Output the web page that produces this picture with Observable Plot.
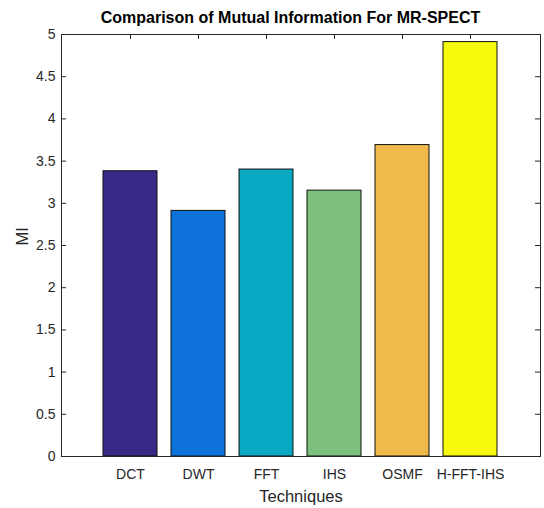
<!DOCTYPE html>
<html><head><meta charset="utf-8">
<script src="https://cdn.jsdelivr.net/npm/d3@7"></script>
<script src="https://cdn.jsdelivr.net/npm/@observablehq/plot@0.6"></script>
<style>
html,body{margin:0;padding:0;background:#fff;}
body{font-family:"Liberation Sans",Arial,Helvetica,sans-serif;width:544px;}
#title{box-sizing:border-box;width:544px;height:26px;padding-top:9px;padding-left:37px;line-height:18px;text-align:center;font-weight:bold;font-size:16px;color:#000;white-space:nowrap;}
</style></head><body>
<div id="title">Comparison of Mutual Information For MR-SPECT</div>
<div id="chart"></div>
<script>
const techniques = ["DCT", "DWT", "FFT", "IHS", "OSMF", "H-FFT-IHS"];
const miValues = [3.38, 2.91, 3.40, 3.15, 3.69, 4.91];
const barColors = ["#362a86", "#0d72da", "#08a8c3", "#7dbf7c", "#f0b94c", "#f8fa0d"];
const yTicks = [0, 0.5, 1, 1.5, 2, 2.5, 3, 3.5, 4, 4.5, 5];
const xLabel = "Techniques";
const yLabel = "MI";

const data = techniques.map((t, i) => ({technique: t, mi: miValues[i], color: barColors[i]}));

const W = 544, H = 482, mL = 61, mR = 4, mT = 8, mB = 52;
const innerW = W - mL - mR, innerH = H - mT - mB;
const axisColor = "#262626";

const chart = Plot.plot({
  width: W, height: H,
  marginLeft: mL, marginRight: mR, marginTop: mT, marginBottom: mB,
  style: {fontFamily: '"Liberation Sans", Arial, Helvetica, sans-serif', fontSize: "14px", color: axisColor, background: "white", overflow: "visible"},
  x: {type: "band", domain: techniques, paddingInner: 0.2, paddingOuter: 0.6, align: 0.5, label: null},
  y: {domain: [0, 5], label: null},
  marks: [
    Plot.tickX(techniques, {x: d => d, stroke: axisColor, insetTop: innerH - 5}),
    Plot.barY(data, {x: "technique", y: "mi", fill: "color", stroke: "#111", strokeWidth: 1}),
    Plot.tickX(techniques, {x: d => d, stroke: axisColor, insetBottom: innerH - 5}),
    Plot.tickY(yTicks, {y: d => d, stroke: axisColor, insetRight: innerW - 5}),
    Plot.tickY(yTicks, {y: d => d, stroke: axisColor, insetLeft: innerW - 5}),
    Plot.frame({stroke: axisColor}),
    Plot.axisX({tickSize: 0, tickPadding: 13, label: null, fill: axisColor, fontSize: 14}),
    Plot.axisY({ticks: yTicks, tickSize: 0, tickPadding: 6, tickFormat: d => String(d), label: null, fill: axisColor, fontSize: 14}),
    Plot.text([xLabel], {frameAnchor: "bottom", dy: 45, fontSize: 16.5, fill: axisColor}),
    Plot.text([yLabel], {frameAnchor: "left", dx: -39, rotate: -90, fontSize: 16.5, fill: axisColor})
  ]
});
document.getElementById("chart").appendChild(chart);
</script>
</body></html>
